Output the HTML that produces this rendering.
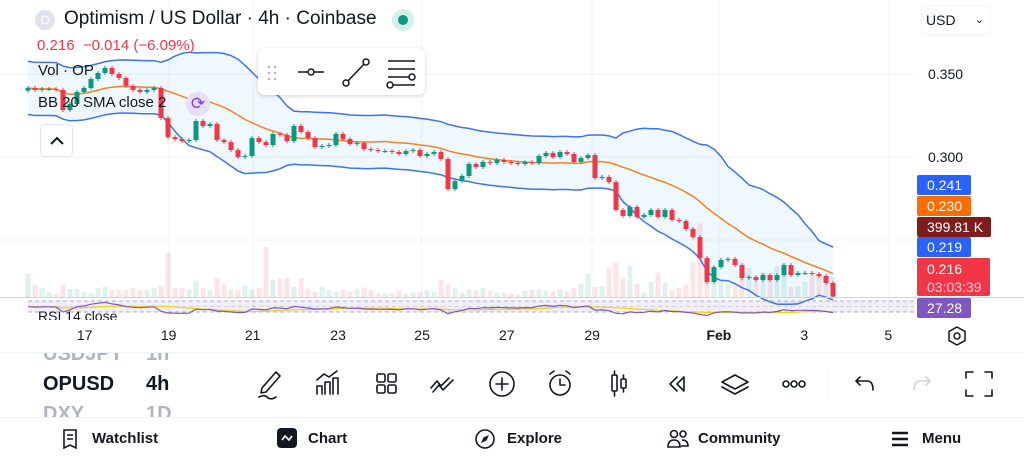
<!DOCTYPE html>
<html><head><meta charset="utf-8">
<style>
*{margin:0;padding:0;box-sizing:border-box}
body{width:1024px;height:461px;overflow:hidden;background:#fff;font-family:"Liberation Sans",sans-serif;color:#131722;position:relative}
.abs{position:absolute}
.lbl{position:absolute;color:#fff;font-size:14px;line-height:20px;padding-left:10px;border-radius:2px}
.tx{position:absolute;font-size:14px;color:#131722}
.nav{position:absolute;top:430px;font-size:15px;font-weight:bold}
</style></head><body>
<svg id="chart" class="abs" style="left:0;top:0" width="1024" height="461">
 <g stroke="#f0f3fa" stroke-width="1">
  <line x1="0" y1="74" x2="915" y2="74"/><line x1="0" y1="157" x2="915" y2="157"/><line x1="0" y1="240" x2="915" y2="240"/>
  <line x1="169" y1="0" x2="169" y2="320"/><line x1="253" y1="0" x2="253" y2="320"/><line x1="422" y1="0" x2="422" y2="320"/><line x1="592" y1="0" x2="592" y2="320"/><line x1="719" y1="0" x2="719" y2="320"/><line x1="889" y1="0" x2="889" y2="320"/>
 </g>
 <g id="vol"></g>
 <path id="band" fill="rgba(33,150,243,0.07)"/>
 <path id="upper" fill="none" stroke="#3f72f0" stroke-width="1.5"/>
 <path id="lower" fill="none" stroke="#3f72f0" stroke-width="1.5"/>
 <path id="basis" fill="none" stroke="#f7821b" stroke-width="1.5"/>
 <g id="candles"></g>
 <line x1="0" y1="297.5" x2="1024" y2="297.5" stroke="#d1d4dc"/>
 <rect x="28" y="301" width="887" height="11" fill="rgba(126,87,194,0.1)"/>
 <line x1="28" y1="301" x2="915" y2="301" stroke="#9598a1" stroke-dasharray="4 3" stroke-width="0.8"/>
 <line x1="28" y1="306.5" x2="915" y2="306.5" stroke="#b2b5be" stroke-dasharray="4 3" stroke-width="0.6"/>
 <line x1="28" y1="312" x2="915" y2="312" stroke="#9598a1" stroke-dasharray="4 3" stroke-width="0.8"/>
 <path id="rsima" fill="none" stroke="#f5d20a" stroke-width="1.2"/>
 <path id="rsi" fill="none" stroke="#7e57c2" stroke-width="1.2"/>
 <line x1="0" y1="352.5" x2="1024" y2="352.5" stroke="#f0f3fa"/>
 <line x1="0" y1="417.5" x2="1024" y2="417.5" stroke="#f0f3fa"/>
</svg>

<!-- header -->
<div class="abs" style="left:35px;top:10px;width:20px;height:20px;border-radius:50%;background:#e0e3eb;color:#fff;font-size:12px;text-align:center;line-height:20px">O</div>
<div class="abs" style="left:64px;top:8px;font-size:19px;white-space:nowrap">Optimism / US Dollar · 4h · Coinbase</div>
<div class="abs" style="left:392px;top:9px;width:22px;height:22px;border-radius:50%;background:#d4f0e9"><div style="margin:6px;width:10px;height:10px;border-radius:50%;background:#089981"></div></div>
<div class="abs" style="left:37px;top:37px;font-size:15px;color:#f23645;white-space:nowrap">0.216 &nbsp;−0.014 (−6.09%)</div>
<div class="tx" style="left:38px;top:62px;font-size:15px">Vol · OP</div>
<div class="tx" style="left:38px;top:94px;font-size:15px">BB 20 SMA close 2</div>
<div class="abs" style="left:186px;top:92px;width:24px;height:24px;border-radius:50%;background:#e6defa;color:#7e3cf2;font-size:17px;text-align:center;line-height:24px">⟳</div>
<div class="abs" style="left:40px;top:124px;width:33px;height:33px;border:1px solid #e0e3eb;border-radius:5px;background:#fff;text-align:center;font-size:16px;line-height:33px"><svg width="14" height="10" style="margin-top:11px"><path d="M1 8 L7 2 L13 8" fill="none" stroke="#131722" stroke-width="2"/></svg></div>
<div class="abs" style="left:258px;top:48px;width:167px;height:47px;background:#fff;border-radius:7px;box-shadow:0 1px 4px rgba(0,0,0,0.18)">
 <svg width="167" height="47"><g fill="#b2b5be"><circle cx="11" cy="19" r="1.3"/><circle cx="17" cy="19" r="1.3"/><circle cx="11" cy="25" r="1.3"/><circle cx="17" cy="25" r="1.3"/><circle cx="11" cy="31" r="1.3"/><circle cx="17" cy="31" r="1.3"/></g>
 <g stroke="#131722" stroke-width="1.5" fill="#fff"><line x1="40" y1="24" x2="66" y2="24"/><circle cx="53" cy="24" r="3"/><line x1="88" y1="35" x2="108" y2="14"/><circle cx="88" cy="35" r="3"/><circle cx="108" cy="14" r="3"/><line x1="130" y1="13" x2="157" y2="13"/><line x1="130" y1="21" x2="157" y2="21"/><line x1="130" y1="29" x2="157" y2="29"/><line x1="130" y1="37" x2="157" y2="37"/><circle cx="154" cy="29" r="3"/><circle cx="132" cy="37" r="3"/></g></svg></div>
<div class="abs" style="left:921px;top:5px;width:70px;height:30px;border:1px solid #f0f3fa;border-radius:5px;font-size:14px;line-height:28px;padding-left:4px">USD<span style="position:absolute;right:6px;font-size:11px">⌄</span></div>
<div class="tx" style="left:928px;top:66px">0.350</div>
<div class="tx" style="left:928px;top:149px">0.300</div>
<div class="lbl" style="left:917px;top:175px;width:54px;background:#2962ff">0.241</div>
<div class="lbl" style="left:917px;top:196px;width:54px;background:#ff6d00">0.230</div>
<div class="lbl" style="left:917px;top:217px;width:74px;background:#7f1d1d">399.81 K</div>
<div class="lbl" style="left:917px;top:237px;width:54px;background:#2962ff">0.219</div>
<div class="lbl" style="left:917px;top:258px;width:73px;height:38px;background:#f23645;line-height:18px;padding-top:2px">0.216<br><span style="color:#fcd">03:03:39</span></div>
<div class="lbl" style="left:917px;top:298px;width:54px;background:#7e57c2">27.28</div>
<div class="abs" style="left:38px;top:309px;font-size:14px;height:11px;overflow:hidden;line-height:14px;color:#131722">RSI 14 close</div>
<!-- time axis -->
<div id="timeaxis"></div>
<svg class="abs" style="left:946px;top:325px" width="22" height="22"><polygon points="11,2 19,6.5 19,15.5 11,20 3,15.5 3,6.5" fill="none" stroke="#131722" stroke-width="1.5"/><circle cx="11" cy="11" r="3" fill="none" stroke="#131722" stroke-width="1.5"/></svg>
<!-- symbol picker -->
<div class="abs" style="left:0;top:353px;width:200px;height:64px;overflow:hidden">
 <div class="abs" style="left:43px;top:-10px;font-size:20px;color:#b2b5be;font-weight:bold">USDJPY<span style="position:absolute;left:103px">1h</span></div>
 <div class="abs" style="left:43px;top:20px;font-size:20px;font-weight:bold">OPUSD<span style="position:absolute;left:103px">4h</span></div>
 <div class="abs" style="left:43px;top:50px;font-size:20px;color:#b2b5be;font-weight:bold">DXY<span style="position:absolute;left:103px">1D</span></div>
</div>
<svg class="abs" style="left:240px;top:366px" width="784" height="36">
 <g fill="none" stroke="#131722" stroke-width="1.6" stroke-linecap="round" stroke-linejoin="round">
  <path d="M22 22 L36 6 L40 10 L26 26 L21 27 Z M19 31 Q25 28 28 32 Q32 34 36 31"/>
  <path d="M77 28 V20 H82 V28 M85 28 V16 H90 V28 M93 28 V12 H98 V28 M77 14 L84 8 L89 11 L97 5"/>
  <rect x="137" y="8" width="8" height="8" rx="1.5"/><rect x="148" y="8" width="8" height="8" rx="1.5"/><rect x="137" y="19" width="8" height="8" rx="1.5"/><rect x="148" y="19" width="8" height="8" rx="1.5"/>
  <path d="M191 22 L197 15 L201 20 L209 12 M193 26 L199 19 L203 24 L213 14" />
  <circle cx="262" cy="18" r="12"/><path d="M262 12 V24 M256 18 H268"/>
  <circle cx="320" cy="19" r="10"/><path d="M320 13 V19 H325 M310 8 L314 5 M330 8 L326 5"/>
  <rect x="372" y="9" width="5" height="16" rx="1"/><path d="M374.5 5 V9 M374.5 25 V30"/><rect x="381" y="13" width="5" height="9" rx="1"/><path d="M383.5 9 V13 M383.5 22 V26"/>
  <path d="M437 11 L430 18 L437 25 M444 11 L437 18 L444 25 M444 11 V25"/>
  <path d="M495 9 L508 16 L495 23 L482 16 Z M482 21 L495 28 L508 21"/>
  <circle cx="546" cy="18" r="3"/><circle cx="554" cy="18" r="3"/><circle cx="562" cy="18" r="3"/>
  <path d="M616 15 H627 Q633 15 633 24 M616 15 L620 11 M616 15 L620 19"/>
  <path d="M690 15 H680 Q674 15 674 24 M690 15 L686 11 M690 15 L686 19" stroke="#d1d4dc"/>
  <path d="M726 12 V6 H733 M745 6 H752 V12 M752 24 V30 H745 M733 30 H726 V24"/>
 </g>
 <line x1="588" y1="5" x2="588" y2="31" stroke="#f0f3fa"/>
</svg>
<!-- nav -->
<svg class="abs" style="left:60px;top:428px" width="20" height="22"><path d="M4 2 H16 V20 L10 17 L4 20 Z M7 7 H13 M7 11 H13" fill="none" stroke="#131722" stroke-width="1.6"/></svg>
<div class="nav" style="left:92px">Watchlist</div>
<div class="abs" style="left:277px;top:428px;width:20px;height:20px;border-radius:4px;background:#131722"><svg width="20" height="20"><path d="M5 12 L8 8 L12 12 L15 8" fill="none" stroke="#fff" stroke-width="1.6"/></svg></div>
<div class="nav" style="left:308px">Chart</div>
<svg class="abs" style="left:474px;top:428px" width="22" height="22"><circle cx="11" cy="11" r="9" fill="none" stroke="#131722" stroke-width="1.6"/><path d="M15 7 L12.5 12.5 L7 15 L9.5 9.5 Z" fill="#131722"/></svg>
<div class="nav" style="left:507px">Explore</div>
<svg class="abs" style="left:666px;top:428px" width="24" height="22"><g fill="none" stroke="#131722" stroke-width="1.6"><circle cx="8" cy="6" r="3.5"/><circle cx="17" cy="6" r="3"/><path d="M2 19 Q2 12 8 12 Q14 12 14 19 Z M16 12 Q22 12 22 18 H15"/></g></svg>
<div class="nav" style="left:698px">Community</div>
<svg class="abs" style="left:890px;top:429px" width="20" height="20"><path d="M2 4 H18 M2 10 H18 M2 16 H18" stroke="#131722" stroke-width="2.4"/></svg>
<div class="nav" style="left:922px">Menu</div>

<script>
const firstOpen = 0.340;
const closes = [0.3416,0.3404,0.3410,0.3410,0.3404,0.3283,0.3319,0.3392,0.3416,0.3470,0.3506,0.3536,0.3500,0.3476,0.3428,0.3404,0.3392,0.3404,0.3416,0.3235,0.3120,0.3108,0.3096,0.3102,0.3217,0.3187,0.3199,0.3102,0.3090,0.3042,0.3000,0.3006,0.3114,0.3090,0.3072,0.3139,0.3133,0.3096,0.3187,0.3151,0.3114,0.3060,0.3066,0.3072,0.3139,0.3108,0.3078,0.3084,0.3048,0.3042,0.3036,0.3036,0.3030,0.3018,0.3036,0.3042,0.3006,0.3018,0.3030,0.2988,0.2807,0.2855,0.2886,0.2958,0.2940,0.2970,0.2964,0.2982,0.2970,0.2964,0.2958,0.2970,0.2964,0.3006,0.3024,0.3000,0.3030,0.3018,0.2970,0.2994,0.3012,0.2873,0.2880,0.2849,0.2681,0.2645,0.2699,0.2639,0.2651,0.2681,0.2639,0.2681,0.2621,0.2614,0.2566,0.2518,0.2392,0.2247,0.2337,0.2380,0.2386,0.2349,0.2271,0.2277,0.2259,0.2289,0.2259,0.2289,0.2349,0.2289,0.2301,0.2301,0.2295,0.2283,0.2241,0.2160];
const volumes = [460,240,180,100,60,240,160,160,100,90,180,200,140,150,140,180,150,150,180,220,880,180,180,150,330,180,140,380,270,150,140,230,150,180,1000,350,370,380,200,370,170,100,210,140,110,140,110,170,190,140,90,70,70,140,70,90,110,140,110,350,250,170,90,150,130,180,130,90,90,70,50,120,150,150,130,110,150,110,180,270,470,200,220,590,690,380,620,270,90,300,490,290,130,180,250,710,1470,300,300,330,270,250,470,580,310,490,430,620,670,200,220,310,430,420,230,400];
const timeTicks = ["17","19","21","23","25","27","29","Feb","3","5"];
const timeTickIdx = [8.1,20.1,32.1,44.3,56.3,68.4,80.6,98.7,110.9,122.9];

const NS="http://www.w3.org/2000/svg";
const xOf=i=>28+7*i;
const yOf=p=>157-(p-0.3)*1660;
const yRsi=r=>301+(70-r)*11/40;
const opens=closes.map((c,i)=>i?closes[i-1]:firstOpen);
const vg=document.getElementById('vol');
volumes.forEach((v,i)=>{
  if(i>=closes.length) return;
  const r=document.createElementNS(NS,'rect');
  const h=v*0.05;
  r.setAttribute('x',xOf(i)-2.5);r.setAttribute('y',297-h);r.setAttribute('width',5);r.setAttribute('height',h);
  r.setAttribute('fill',closes[i]>=opens[i]?'rgba(8,153,129,0.13)':'rgba(242,54,69,0.13)');
  
  
  vg.appendChild(r);
});
const up=[],lo=[],ba=[];
closes.forEach((c,i)=>{
  const w=closes.slice(Math.max(0,i-19),i+1);
  const m=w.reduce((a,b)=>a+b,0)/w.length;
  const sd=Math.sqrt(w.reduce((a,b)=>a+(b-m)*(b-m),0)/w.length);
  const s=Math.max(sd,0.008);
  ba.push(m);up.push(m+2*s);lo.push(m-2*s);
});
const pth=a=>a.map((p,i)=>(i?'L':'M')+xOf(i)+' '+yOf(p).toFixed(1)).join(' ');
document.getElementById('upper').setAttribute('d',pth(up));
document.getElementById('lower').setAttribute('d',pth(lo));
document.getElementById('basis').setAttribute('d',pth(ba));
document.getElementById('band').setAttribute('d',pth(up)+' '+lo.map((p,i)=>'L'+xOf(i)+' '+yOf(p).toFixed(1)).reverse().join(' ')+' Z');
const cg=document.getElementById('candles');
closes.forEach((c,i)=>{
  const o=opens[i],col=c>=o?'#089981':'#f23645';
  const hi=Math.max(o,c)+0.0012,lw=Math.min(o,c)-0.0012;
  const l=document.createElementNS(NS,'line');
  l.setAttribute('x1',xOf(i));l.setAttribute('x2',xOf(i));l.setAttribute('y1',yOf(hi));l.setAttribute('y2',yOf(lw));
  l.setAttribute('stroke',col);
  
  
  cg.appendChild(l);
  const r=document.createElementNS(NS,'rect');
  const y1=yOf(Math.max(o,c)),y2=yOf(Math.min(o,c));
  r.setAttribute('x',xOf(i)-2.5);r.setAttribute('y',y1);r.setAttribute('width',5);r.setAttribute('height',Math.max(1,y2-y1));
  r.setAttribute('fill',col);
  
  
  cg.appendChild(r);
});
const rsi=[];let ag=0,al=0;
closes.forEach((c,i)=>{
  const d=i?c-closes[i-1]:0;const g=Math.max(d,0),l=Math.max(-d,0);
  if(i===0){ag=0.001;al=0.001;}else{ag=(ag*13+g)/14;al=(al*13+l)/14;}
  rsi.push(100-100/(1+ag/al));
});
const rma=rsi.map((r,i)=>{const w=rsi.slice(Math.max(0,i-13),i+1);return w.reduce((a,b)=>a+b,0)/w.length;});
document.getElementById('rsi').setAttribute('d',rsi.map((r,i)=>(i?'L':'M')+xOf(i)+' '+yRsi(r).toFixed(1)).join(' '));
document.getElementById('rsima').setAttribute('d',rma.map((r,i)=>(i?'L':'M')+xOf(i)+' '+yRsi(r).toFixed(1)).join(' '));
const ta=document.getElementById('timeaxis');
timeTicks.forEach((t,k)=>{
  const d=document.createElement('div');
  d.className='tx';d.textContent=t;
  d.style.left=(xOf(timeTickIdx[k])-30)+'px';d.style.width='60px';d.style.textAlign='center';d.style.top='327px';
  if(t==='Feb') d.style.fontWeight='bold';
  
  
  ta.appendChild(d);
});
</script>
</body></html>
